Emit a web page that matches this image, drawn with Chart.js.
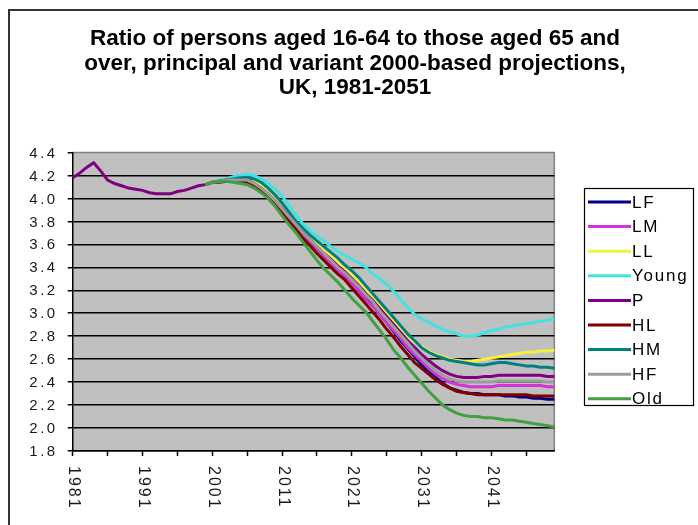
<!DOCTYPE html>
<html>
<head>
<meta charset="utf-8">
<script src="https://cdn.jsdelivr.net/npm/chart.js@4/dist/chart.umd.min.js"></script>
<style>
  html, body { margin: 0; padding: 0; background: #fff; }
  canvas { display: block; }
</style>
</head>
<body>
<canvas id="chart" width="698" height="525"></canvas>
<script>
// Years on the category axis, 1981 to 2050
const years = [];
for (let y = 1981; y <= 2050; y++) years.push(String(y));

// Year labels written under the axis (every ten years)
const xLabelYears = ['1981', '1991', '2001', '2011', '2021', '2031', '2041'];

// Value axis range
const yMin = 1.8, yMax = 4.4, yStep = 0.2;

// Estimates 1981-1999 (principal series only)
const historic = [4.18, 4.22, 4.27, 4.31, 4.24, 4.16, 4.13, 4.11, 4.09, 4.08,
                  4.07, 4.05, 4.04, 4.04, 4.04, 4.06, 4.07, 4.09, 4.11];

// Projections 2000-2050
const LF = [4.12, 4.14, 4.15, 4.16, 4.16, 4.16, 4.16, 4.13, 4.09, 4.04,
            3.98, 3.91, 3.84, 3.77, 3.70, 3.64, 3.57, 3.51, 3.46, 3.39,
            3.34, 3.27, 3.21, 3.13, 3.07, 2.99, 2.92, 2.84, 2.76, 2.69,
            2.62, 2.55, 2.49, 2.44, 2.39, 2.35, 2.33, 2.31, 2.30, 2.30,
            2.29, 2.29, 2.29, 2.28, 2.28, 2.27, 2.27, 2.26, 2.26, 2.25, 2.25];
const LM = [4.12, 4.14, 4.15, 4.16, 4.15, 4.15, 4.15, 4.12, 4.08, 4.02,
            3.96, 3.89, 3.82, 3.75, 3.67, 3.61, 3.55, 3.49, 3.43, 3.37,
            3.32, 3.26, 3.19, 3.12, 3.06, 2.99, 2.92, 2.85, 2.78, 2.70,
            2.64, 2.58, 2.52, 2.47, 2.43, 2.40, 2.38, 2.37, 2.36, 2.36,
            2.36, 2.36, 2.37, 2.37, 2.37, 2.37, 2.37, 2.37, 2.37, 2.36, 2.36];
const LL = [4.12, 4.14, 4.15, 4.16, 4.17, 4.17, 4.17, 4.15, 4.12, 4.07,
            4.01, 3.94, 3.86, 3.79, 3.72, 3.66, 3.61, 3.55, 3.50, 3.45,
            3.39, 3.34, 3.28, 3.21, 3.14, 3.07, 3.00, 2.93, 2.86, 2.80,
            2.75, 2.71, 2.67, 2.64, 2.62, 2.60, 2.59, 2.58, 2.58, 2.59,
            2.60, 2.61, 2.62, 2.63, 2.64, 2.65, 2.66, 2.66, 2.67, 2.67, 2.68];
const Young = [4.12, 4.14, 4.16, 4.17, 4.19, 4.20, 4.21, 4.20, 4.17, 4.13,
               4.08, 4.02, 3.94, 3.85, 3.78, 3.72, 3.67, 3.63, 3.58, 3.54,
               3.50, 3.47, 3.44, 3.40, 3.34, 3.30, 3.25, 3.19, 3.12, 3.05,
               2.99, 2.95, 2.92, 2.89, 2.86, 2.84, 2.82, 2.80, 2.80, 2.81,
               2.83, 2.85, 2.86, 2.88, 2.89, 2.90, 2.91, 2.92, 2.93, 2.94, 2.95];
const P = [4.12, 4.14, 4.15, 4.16, 4.16, 4.16, 4.16, 4.13, 4.09, 4.04,
           3.98, 3.91, 3.84, 3.77, 3.70, 3.64, 3.58, 3.52, 3.47, 3.41,
           3.36, 3.30, 3.24, 3.17, 3.11, 3.04, 2.97, 2.90, 2.83, 2.76,
           2.70, 2.64, 2.59, 2.54, 2.50, 2.47, 2.45, 2.44, 2.44, 2.44,
           2.45, 2.45, 2.46, 2.46, 2.46, 2.46, 2.46, 2.46, 2.46, 2.45, 2.45];
const HL = [4.12, 4.14, 4.14, 4.15, 4.15, 4.15, 4.14, 4.11, 4.07, 4.01,
            3.95, 3.87, 3.80, 3.73, 3.65, 3.59, 3.52, 3.46, 3.40, 3.34,
            3.29, 3.22, 3.15, 3.08, 3.01, 2.94, 2.86, 2.79, 2.71, 2.64,
            2.57, 2.52, 2.47, 2.42, 2.38, 2.35, 2.32, 2.31, 2.30, 2.29,
            2.29, 2.29, 2.29, 2.29, 2.29, 2.29, 2.29, 2.28, 2.28, 2.28, 2.28];
const HM = [4.12, 4.14, 4.15, 4.16, 4.17, 4.18, 4.18, 4.17, 4.14, 4.09,
            4.03, 3.96, 3.88, 3.80, 3.74, 3.68, 3.63, 3.58, 3.53, 3.48,
            3.42, 3.37, 3.31, 3.24, 3.17, 3.10, 3.03, 2.96, 2.89, 2.82,
            2.76, 2.70, 2.66, 2.63, 2.61, 2.59, 2.58, 2.57, 2.56, 2.55,
            2.55, 2.56, 2.57, 2.57, 2.56, 2.55, 2.54, 2.54, 2.53, 2.53, 2.52];
const HF = [4.12, 4.14, 4.15, 4.16, 4.16, 4.16, 4.16, 4.13, 4.09, 4.04,
            3.98, 3.91, 3.84, 3.77, 3.70, 3.64, 3.58, 3.52, 3.46, 3.40,
            3.35, 3.29, 3.23, 3.16, 3.10, 3.02, 2.95, 2.88, 2.81, 2.74,
            2.67, 2.61, 2.55, 2.50, 2.46, 2.43, 2.41, 2.40, 2.40, 2.40,
            2.40, 2.40, 2.41, 2.41, 2.41, 2.41, 2.41, 2.41, 2.41, 2.40, 2.40];
const Old = [4.12, 4.14, 4.15, 4.15, 4.14, 4.13, 4.12, 4.09, 4.05, 4.00,
             3.93, 3.85, 3.77, 3.70, 3.62, 3.54, 3.46, 3.39, 3.33, 3.27,
             3.20, 3.13, 3.07, 3.01, 2.93, 2.85, 2.77, 2.68, 2.61, 2.53,
             2.46, 2.39, 2.32, 2.26, 2.20, 2.16, 2.13, 2.11, 2.10, 2.10,
             2.09, 2.09, 2.08, 2.07, 2.07, 2.06, 2.05, 2.04, 2.03, 2.02, 2.01];

// Projections start at 2000; earlier years are left empty
const gap = historic.map(() => null);

const seriesList = [
  { label: 'LF',    values: gap.concat(LF),       color: '#000080' },
  { label: 'LM',    values: gap.concat(LM),       color: '#d633d6' },
  { label: 'LL',    values: gap.concat(LL),       color: '#f2f23c' },
  { label: 'Young', values: gap.concat(Young),    color: '#3fe3e3' },
  { label: 'P',     values: historic.concat(P),   color: '#800080' },
  { label: 'HL',    values: gap.concat(HL),       color: '#800000' },
  { label: 'HM',    values: gap.concat(HM),       color: '#008080' },
  { label: 'HF',    values: gap.concat(HF),       color: '#9c9c9c' },
  { label: 'Old',   values: gap.concat(Old),      color: '#42a042' }
];

const TEXT_FONT = '"Liberation Sans", Arial, sans-serif';

// Plot background, outer frame, rotated year labels, value labels and the boxed key
const decor = {
  id: 'decor',
  beforeDraw(chart) {
    const { ctx, chartArea: a } = chart;
    ctx.save();
    ctx.fillStyle = '#ffffff';
    ctx.fillRect(0, 0, chart.width, chart.height);
    ctx.strokeStyle = '#333333';
    ctx.lineWidth = 2;
    ctx.strokeRect(9, 10, chart.width, chart.height);
    ctx.fillStyle = '#c0c0c0';
    ctx.fillRect(a.left, a.top, a.right - a.left, a.bottom - a.top);
    ctx.strokeStyle = '#808080';
    ctx.lineWidth = 1.5;
    ctx.beginPath();
    ctx.moveTo(a.left, a.top);
    ctx.lineTo(a.right, a.top);
    ctx.lineTo(a.right, a.bottom);
    ctx.stroke();
    ctx.restore();
  },
  afterDraw(chart) {
    const { ctx, chartArea: a } = chart;
    const xs = chart.scales.x, ys = chart.scales.y;
    ctx.save();
    ctx.fillStyle = '#1a1a1a';
    ctx.font = '15px ' + TEXT_FONT;
    if ('letterSpacing' in ctx) ctx.letterSpacing = '2.5px';

    // value labels
    ctx.textAlign = 'right';
    ctx.textBaseline = 'middle';
    ys.ticks.forEach(t => {
      const py = ys.getPixelForValue(t.value);
      ctx.fillText(t.value.toFixed(1), a.left - 15, py + 1);
    });

    // year labels, turned to read downwards
    ctx.font = '16px ' + TEXT_FONT;
    if ('letterSpacing' in ctx) ctx.letterSpacing = '2px';
    ctx.textAlign = 'left';
    xLabelYears.forEach(lbl => {
      const px = xs.getPixelForValue(years.indexOf(lbl));
      ctx.save();
      ctx.translate(px + 1, a.bottom + 15);
      ctx.rotate(Math.PI / 2);
      ctx.fillText(lbl, 0, 0);
      ctx.restore();
    });

    // key
    const bx = 584, by = 188, bw = 109, bh = 217;
    ctx.fillStyle = '#ffffff';
    ctx.fillRect(bx, by, bw, bh);
    ctx.strokeStyle = '#000000';
    ctx.lineWidth = 1.2;
    ctx.strokeRect(bx + 0.5, by + 0.5, bw, bh);
    ctx.font = '17px ' + TEXT_FONT;
    if ('letterSpacing' in ctx) ctx.letterSpacing = '1.8px';
    ctx.textAlign = 'left';
    ctx.textBaseline = 'middle';
    chart.data.datasets.forEach((ds, i) => {
      const ry = 202 + i * 24.6;
      ctx.strokeStyle = ds.borderColor;
      ctx.lineWidth = 3;
      ctx.beginPath();
      ctx.moveTo(588, ry);
      ctx.lineTo(631, ry);
      ctx.stroke();
      ctx.fillStyle = '#000000';
      ctx.fillText(ds.label, 632, ry + 1);
    });
    ctx.restore();
  }
};

const n = seriesList.length;
new Chart(document.getElementById('chart'), {
  type: 'line',
  data: {
    labels: years,
    datasets: seriesList.map((s, i) => ({
      label: s.label,
      data: s.values,
      borderColor: s.color,
      backgroundColor: s.color,
      borderWidth: 3,
      pointRadius: 0,
      tension: 0,
      fill: false,
      yAxisID: 'y',
      order: n - i
    }))
  },
  options: {
    responsive: false,
    animation: false,
    events: [],
    layout: { padding: { left: 12, right: 0, top: 0, bottom: 0 } },
    plugins: {
      legend: { display: false },
      tooltip: { enabled: false },
      title: {
        display: true,
        text: ['Ratio of persons aged 16-64 to those aged 65 and',
               'over, principal and variant 2000-based projections,',
               'UK, 1981-2051'],
        color: '#000000',
        font: { family: TEXT_FONT, size: 22.5, weight: 'bold', lineHeight: 24.5 / 22.5 },
        padding: { top: 27, bottom: 52 }
      }
    },
    scales: {
      x: {
        type: 'category',
        offset: false,
        grid: {
          display: true,
          drawOnChartArea: false,
          drawTicks: true,
          tickLength: 5,
          tickWidth: 1.5,
          tickColor: c => (c.index % 5 === 0 ? '#000000' : 'rgba(0,0,0,0)')
        },
        border: { color: '#000000', width: 1.5 },
        ticks: { display: false, autoSkip: false },
        afterFit: s => { s.height = 74; }
      },
      y: {
        min: yMin,
        max: yMax,
        ticks: { display: false, stepSize: yStep },
        grid: {
          color: c => (c.tick && Math.abs(c.tick.value - yMax) < 1e-6 ? 'rgba(0,0,0,0)' : '#000000'),
          lineWidth: 1.5,
          tickLength: 5,
          tickWidth: 1.5,
          tickColor: '#000000'
        },
        border: { color: '#000000', width: 1.5 },
        afterFit: s => { s.width = 60.7; }
      },
      keySpace: {
        type: 'linear',
        position: 'right',
        display: true,
        grid: { display: false },
        ticks: { display: false },
        border: { display: false },
        afterFit: s => { s.width = 143.7; }
      }
    }
  },
  plugins: [decor]
});
</script>
</body>
</html>
